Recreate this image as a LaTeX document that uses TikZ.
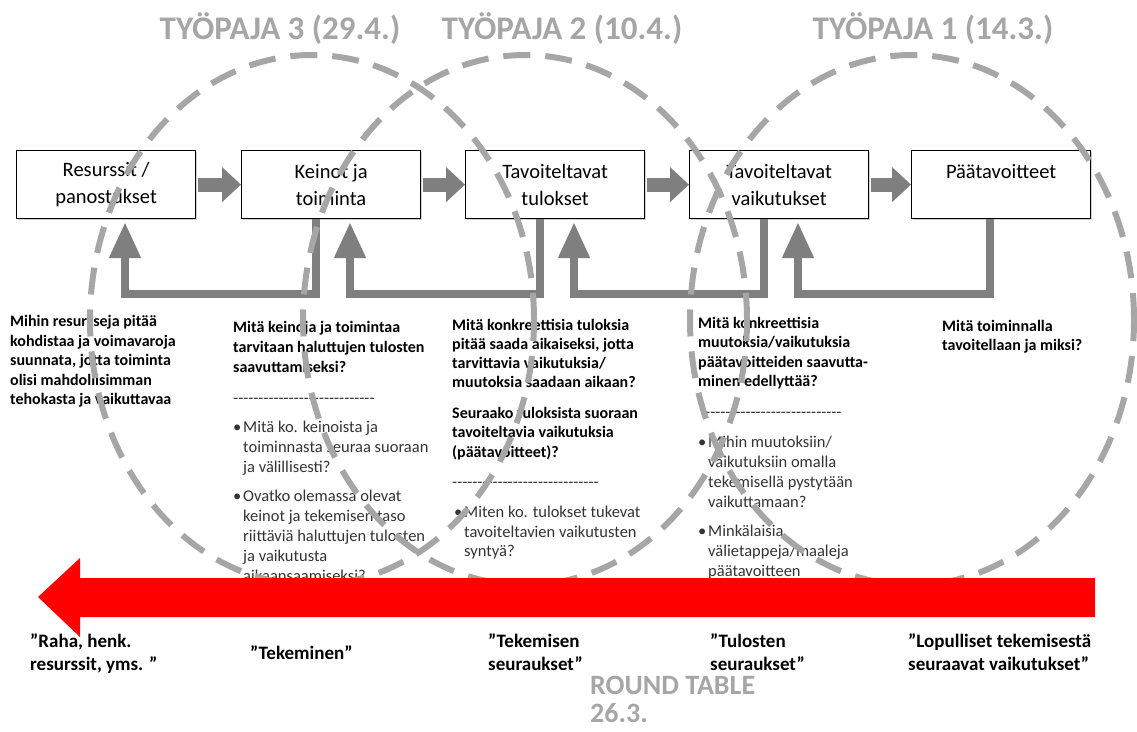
\documentclass[tikz,border=0pt]{standalone}
\usepackage{fontspec}
\setmainfont{Carlito}
\usetikzlibrary{arrows.meta,shadows}

\definecolor{flowgray}{HTML}{7F7F7F}
\definecolor{ringgray}{HTML}{A6A6A6}
\definecolor{textgray}{HTML}{333333}
\definecolor{alertred}{HTML}{FF0000}

\newcommand{\blt}{\makebox[10pt][l]{\textbullet}}
\newcommand{\indt}{\hspace*{10pt}}
\newcommand{\dashrow}[1]{\foreach \n in {1,...,#1}{-\kern0pt}}

\tikzset{
    stagebox/.style={draw=black, line width=1.2pt, fill=white,
        minimum width=179pt, minimum height=68pt, inner sep=0pt,
        align=center, anchor=north west,
        font=\fontsize{20.5}{27}\selectfont,
        drop shadow={shadow xshift=1.5pt, shadow yshift=-1.5pt, opacity=.35}},
    fwdarrow/.style={flowgray, line width=14pt, shorten <=2pt,
        -{Triangle[width=34pt, length=19pt]}},
    backarrow/.style={flowgray, line width=8pt, shorten >=3pt,
        -{Triangle[width=30pt, length=36pt]}},
    ringline/.style={ringgray, line width=6pt, dash pattern=on 27pt off 15pt},
    askbold/.style={anchor=north west, inner sep=0pt, align=left,
        font=\bfseries\fontsize{16}{19.5}\selectfont},
    askplain/.style={anchor=north west, inner sep=0pt, align=left, textgray,
        font=\fontsize{16.5}{20}\selectfont},
    dashline/.style={anchor=base west, inner sep=0pt, textgray,
        font=\fontsize{16.5}{20}\selectfont},
    saying/.style={anchor=north west, inner sep=0pt, align=left,
        font=\bfseries\fontsize{19}{23}\selectfont},
    wshead/.style={ringgray, inner sep=0pt,
        font=\bfseries\fontsize{33}{33}\selectfont}
}

\begin{document}
\begin{tikzpicture}[x=1pt, y=-1pt]
    \useasboundingbox (0,0) rectangle (1137,731);

    % workshop headings
    \node[wshead, anchor=base] (ws3) at (280,39) {TYÖPAJA 3 (29.4.)};
    \node[wshead, anchor=base] (ws2) at (562,39) {TYÖPAJA 2 (10.4.)};
    \node[wshead, anchor=base] (ws1) at (933,39) {TYÖPAJA 1 (14.3.)};

    % chain of stages
    \node[stagebox] (resurssit) at (16,150) {Resurssit /\\panostukset};
    \node[stagebox] (keinot) at (241,150) {Keinot ja\\toiminta};
    \node[stagebox] (tulokset) at (465,150) {Tavoiteltavat\\tulokset};
    \node[stagebox] (vaikutukset) at (689,150) {Tavoiteltavat\\vaikutukset};
    \node[stagebox] (paatav) at (911,150) {Päätavoitteet\\\mbox{}};

    \draw[fwdarrow] (resurssit.east) -- (keinot.west);
    \draw[fwdarrow] (keinot.east) -- (tulokset.west);
    \draw[fwdarrow] (tulokset.east) -- (vaikutukset.west);
    \draw[fwdarrow] (vaikutukset.east) -- (paatav.west);

    \draw[backarrow] ([xshift=75pt]keinot.south west) -- ++(0,75) -| ([xshift=109pt]resurssit.south west);
    \draw[backarrow] ([xshift=75pt]tulokset.south west) -- ++(0,75) -| ([xshift=109pt]keinot.south west);
    \draw[backarrow] ([xshift=75pt]vaikutukset.south west) -- ++(0,75) -| ([xshift=109pt]tulokset.south west);
    \draw[backarrow] ([xshift=79pt]paatav.south west) -- ++(0,75) -| ([xshift=109pt]vaikutukset.south west);

    % questions
    \node[askbold] (q1) at (10,315.5) {Mihin resursseja pitää\\kohdistaa ja voimavaroja\\suunnata, jotta toiminta\\olisi mahdollisimman\\tehokasta ja vaikuttavaa};

    \node[askbold, font=\bfseries\fontsize{16}{20}\selectfont] (q2) at (233,321) {Mitä keinoja ja toimintaa\\tarvitaan haluttujen tulosten\\saavuttamiseksi?};
    \node[dashline] (d2) at (233,403) {\dashrow{28}};
    \node[askplain] (p2) at (233,421) {\blt Mitä ko. keinoista ja\\\indt toiminnasta seuraa suoraan\\\indt ja välillisesti?\\[9pt]\blt Ovatko olemassa olevat\\\indt keinot  ja tekemisen taso\\\indt riittäviä haluttujen tulosten\\\indt ja vaikutusta\\\indt aikaansaamiseksi?};

    \node[askbold, font=\bfseries\fontsize{16}{19}\selectfont] (q3) at (452,319) {Mitä konkreettisia tuloksia\\pitää saada aikaiseksi, jotta\\tarvittavia vaikutuksia/\\muutoksia saadaan aikaan?};
    \node[askbold, font=\bfseries\fontsize{16}{19.5}\selectfont] (q3b) at (452,407) {Seuraako tuloksista suoraan\\tavoiteltavia vaikutuksia\\(päätavoitteet)?};
    \node[dashline] (d3) at (452,487) {\dashrow{29}};
    \node[askplain, font=\fontsize{16.5}{19.5}\selectfont] (p3) at (454,506) {\blt Miten ko. tulokset tukevat\\\indt tavoiteltavien vaikutusten\\\indt syntyä?};

    \node[askbold] (q4) at (698,317) {Mitä konkreettisia\\muutoksia/vaikutuksia\\päätavoitteiden saavutta-\\minen edellyttää?};
    \node[dashline] (d4) at (705,417) {\dashrow{27}};
    \node[askplain] (p4) at (698,436) {\blt Mihin muutoksiin/\\\indt vaikutuksiin omalla\\\indt tekemisellä pystytään\\\indt vaikuttamaan?\\[9pt]\blt Minkälaisia\\\indt välietappeja/maaleja\\\indt päätavoitteen};

    \node[askbold] (q5) at (942,320) {Mitä toiminnalla\\tavoitellaan ja miksi?};

    % workshop rings
    \draw[ringline] (312,320) ellipse [x radius=222pt, y radius=265pt];
    \draw[ringline] (525,320) ellipse [x radius=222pt, y radius=265pt];
    \draw[ringline] (912,320) ellipse [x radius=222pt, y radius=265pt];

    % planning direction
    \fill[alertred] (1095,578) -- (80,578) -- (80,558) -- (38,597) -- (80,637) -- (80,617) -- (1095,617) -- cycle;

    \node[saying] (s1) at (30,633) {”Raha, henk.\\resurssit, yms. ”};
    \node[saying] (s2) at (250,645) {”Tekeminen”};
    \node[saying] (s3) at (488,633) {”Tekemisen\\seuraukset”};
    \node[saying] (s4) at (710,633) {”Tulosten\\seuraukset”};
    \node[saying] (s5) at (908,633) {”Lopulliset tekemisestä\\seuraavat vaikutukset”};

    \node[wshead, anchor=north west, align=left, font=\bfseries\fontsize{28}{28}\selectfont] (rt) at (590,676) {ROUND TABLE\\26.3.};
\end{tikzpicture}
\end{document}
